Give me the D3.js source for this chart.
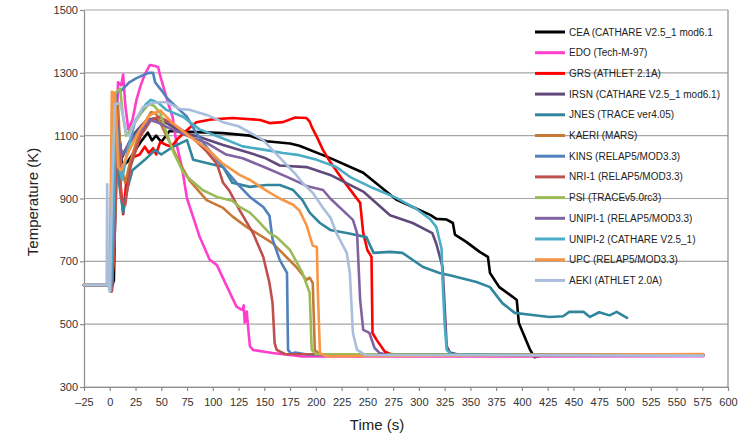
<!DOCTYPE html>
<html>
<head>
<meta charset="utf-8">
<script src="https://cdn.jsdelivr.net/npm/d3@7"></script>
<style>
  html, body { margin: 0; padding: 0; background: #fff; }
  svg { display: block; font-family: "Liberation Sans", Arial, sans-serif; }
</style>
</head>
<body>
<svg id="chart" width="755" height="436"></svg>
<script>
// Cladding temperature histories, [time (s), temperature (K)]
const cea = [[-25,625],[-1,625],[1,605],[4,640],[7,1180],[12,1000],[18,1020],[30,1080],[37,1110],[41,1085],[45,1100],[50,1080],[58,1115],[78,1112],[110,1108],[136,1100],[152,1082],[175,1075],[184,1068],[213,1030],[246,982],[278,897],[311,848],[317,835],[327,833],[333,822],[335,785],[346,762],[359,730],[367,714],[369,663],[378,618],[391,587],[395,577],[397,504],[408,418],[412,395],[420,400],[576,400]];
const edo = [[-25,625],[-1,625],[1,605],[5,900],[8,1270],[11,1260],[13,1295],[15,1200],[18,1120],[22,1150],[26,1215],[30,1260],[34,1295],[39,1325],[44,1322],[47,1318],[49,1290],[53,1245],[57,1200],[61,1160],[65,1070],[70,1000],[75,900],[87,780],[97,705],[104,688],[114,618],[123,556],[127,548],[129,545],[130,560],[131,505],[133,540],[134,500],[136,430],[139,418],[158,408],[187,397],[576,398]];
const grs = [[-25,625],[-1,625],[1,605],[4,700],[6,1150],[9,1000],[13,850],[16,950],[22,1030],[29,1040],[34,1065],[38,1045],[42,1060],[45,1040],[49,1080],[55,1070],[60,1065],[66,1090],[75,1118],[84,1143],[100,1152],[119,1156],[146,1150],[155,1140],[168,1143],[180,1158],[191,1156],[194,1145],[196,1128],[201,1096],[207,1054],[214,1016],[226,960],[243,886],[246,790],[250,736],[254,714],[255,472],[259,450],[267,412],[275,402],[576,402]];
const irsn = [[-25,625],[-1,625],[1,605],[4,800],[6,1180],[9,1100],[12,1030],[16,1060],[22,1100],[30,1130],[36,1150],[42,1155],[55,1140],[71,1110],[87,1096],[110,1070],[136,1045],[150,1030],[165,1005],[191,1000],[214,975],[246,922],[272,847],[294,822],[313,790],[317,755],[323,682],[327,430],[330,410],[340,402],[576,402]];
const jnes = [[-25,625],[-1,625],[1,605],[4,800],[6,1100],[9,950],[13,855],[17,930],[22,990],[34,1023],[44,1054],[50,1040],[61,1064],[75,1086],[81,1023],[94,1013],[110,1000],[119,950],[136,937],[152,943],[165,943],[178,927],[187,895],[194,855],[204,822],[214,800],[230,790],[249,777],[256,727],[272,730],[284,727],[304,682],[320,663],[330,656],[356,634],[369,618],[381,567],[393,536],[408,530],[427,523],[440,525],[446,539],[460,539],[466,523],[475,538],[485,528],[492,539],[502,520]];
const kaeri = [[-25,625],[-1,625],[2,605],[6,900],[8,1200],[11,1000],[15,950],[20,1020],[30,1120],[40,1175],[45,1170],[52,1120],[61,1060],[70,1000],[78,955],[94,895],[110,870],[119,843],[133,809],[158,758],[181,682],[191,641],[194,648],[197,631],[199,418],[205,402],[576,402]];
const kins = [[-25,625],[-1,625],[2,605],[5,1000],[7,1240],[10,1240],[13,1250],[19,1270],[26,1283],[32,1292],[38,1300],[42,1300],[44,1270],[50,1245],[55,1222],[65,1190],[75,1160],[84,1108],[94,1064],[110,1000],[123,950],[136,905],[149,873],[155,845],[158,770],[165,704],[172,663],[173,418],[176,406],[180,410],[190,404],[576,402]];
const nri1 = [[-25,625],[-1,625],[2,605],[5,800],[8,1150],[11,900],[15,880],[20,1000],[30,1100],[40,1150],[48,1160],[60,1140],[78,1100],[94,1050],[104,1010],[110,950],[116,925],[126,863],[139,790],[149,714],[155,631],[158,567],[160,440],[162,418],[170,405],[576,402]];
const psi = [[-25,625],[-1,625],[0,700],[3,1230],[7,1240],[10,1250],[13,1160],[16,1100],[22,1130],[30,1170],[38,1200],[43,1195],[49,1172],[55,1110],[61,1054],[71,985],[75,969],[90,927],[104,905],[119,893],[126,873],[136,855],[143,832],[155,790],[162,777],[175,736],[187,663],[194,600],[196,418],[200,405],[576,402]];
const unipi1 = [[-25,625],[-1,625],[1,605],[4,800],[6,1170],[9,1080],[12,1040],[18,1070],[24,1100],[29,1110],[39,1150],[48,1140],[55,1128],[78,1096],[94,1077],[113,1040],[129,1028],[152,997],[172,969],[191,940],[207,927],[214,900],[226,863],[236,832],[240,790],[243,577],[246,482],[252,472],[257,424],[262,408],[270,402],[576,402]];
const unipi2 = [[-25,625],[-1,625],[1,605],[4,900],[6,1180],[9,1000],[12,960],[17,1050],[25,1150],[35,1200],[40,1214],[47,1205],[55,1182],[71,1160],[87,1120],[107,1095],[129,1066],[152,1054],[168,1045],[184,1038],[201,1023],[220,1000],[233,969],[255,934],[278,902],[298,866],[311,834],[317,809],[320,768],[322,740],[323,640],[325,500],[327,418],[332,403],[576,402]];
const upc = [[-25,625],[-1,625],[0,605],[1,900],[2,1240],[5,1236],[7,1100],[8,1000],[11,990],[19,1054],[29,1118],[39,1166],[49,1180],[61,1140],[78,1096],[94,1060],[110,1010],[126,975],[136,959],[152,925],[165,900],[178,880],[184,862],[191,815],[197,750],[201,746],[202,600],[204,408],[210,398],[576,405]];
const aeki = [[-25,625],[-3,625],[-2.5,945],[-2,625],[-1,625],[0,605],[2,900],[5,1200],[10,1204],[13,1160],[16,1108],[19,1100],[22,1128],[32,1190],[42,1205],[55,1207],[68,1185],[78,1182],[94,1166],[110,1143],[125,1130],[149,1086],[168,1020],[181,975],[187,950],[197,918],[207,870],[214,840],[220,790],[230,727],[233,663],[236,472],[240,418],[248,402],[576,400]];

const seriesNames = ["CEA (CATHARE V2.5_1 mod6.1", "EDO (Tech-M-97)", "GRS (ATHLET 2.1A)", "IRSN (CATHARE V2.5_1 mod6.1)", "JNES (TRACE ver4.05)", "KAERI (MARS)", "KINS (RELAP5/MOD3.3)", "NRI-1 (RELAP5/MOD3.3)", "PSI (TRACEv5.0rc3)", "UNIPI-1 (RELAP5/MOD3.3)", "UNIPI-2 (CATHARE V2.5_1)", "UPC (RELAP5/MOD3.3)", "AEKI (ATHLET 2.0A)"];
const seriesColors = ["#000000", "#ff3fcc", "#ff0000", "#604a7b", "#31859c", "#c77a38", "#4f81bd", "#c0504d", "#9bbb59", "#8064a2", "#4bacc6", "#f79646", "#a9bedc"];
const seriesData = [cea, edo, grs, irsn, jnes, kaeri, kins, nri1, psi, unipi1, unipi2, upc, aeki];

const xTicks = d3.range(-25, 601, 25);
const yTicks = [300, 500, 700, 900, 1100, 1300, 1500];

const svg = d3.select("#chart");
const x = d3.scaleLinear().domain([-25, 600]).range([84, 728]);
const y = d3.scaleLinear().domain([300, 1500]).range([387, 10]);

// horizontal gridlines
svg.append("g").selectAll("line").data(yTicks).join("line")
  .attr("x1", x(-25)).attr("x2", x(600))
  .attr("y1", d => y(d)).attr("y2", d => y(d))
  .attr("stroke", "#a6a6a6").attr("stroke-width", 1.2);

// right frame edge
svg.append("line").attr("x1", x(600)).attr("x2", x(600)).attr("y1", y(1500)).attr("y2", y(300))
  .attr("stroke", "#8c8c8c").attr("stroke-width", 1.2);

const xAxis = svg.append("g").attr("transform", `translate(0,${y(300)})`)
  .call(d3.axisBottom(x).tickValues(xTicks).tickSize(4).tickSizeOuter(0)
    .tickFormat(d => d < 0 ? "\u2013" + Math.abs(d) : String(d)));
const yAxis = svg.append("g").attr("transform", `translate(${x(-25)},0)`)
  .call(d3.axisLeft(y).tickValues(yTicks).tickSize(4).tickSizeOuter(0).tickFormat(d3.format("d")));

[xAxis, yAxis].forEach(g => {
  g.select(".domain").attr("stroke", "#8c8c8c").attr("stroke-width", 1.2);
  g.selectAll(".tick line").attr("stroke", "#8c8c8c").attr("stroke-width", 1.2);
  g.selectAll("text").attr("fill", "#333").style("font-size", "11px")
    .style("font-family", "'Liberation Sans', Arial, sans-serif");
});
xAxis.selectAll("text").attr("dy", "1.1em");
yAxis.selectAll("text").attr("x", -6);

// series lines, later series drawn on top
const line = d3.line().x(d => x(d[0])).y(d => y(d[1]));
svg.append("g").selectAll("path").data(seriesData).join("path")
  .attr("d", line)
  .attr("fill", "none")
  .attr("stroke", (d, i) => seriesColors[i])
  .attr("stroke-width", 2.6)
  .attr("stroke-linejoin", "round")
  .attr("stroke-linecap", "round");

// legend
const legend = svg.append("g");
const legendRows = legend.selectAll("g").data(seriesNames).join("g")
  .attr("transform", (d, i) => `translate(535,${32 + i * 20.7})`);
legendRows.append("line").attr("x1", 0).attr("x2", 30).attr("y1", 0).attr("y2", 0)
  .attr("stroke", (d, i) => seriesColors[i]).attr("stroke-width", 3);
legendRows.append("text").attr("x", 34).attr("y", 0).attr("dy", "0.35em")
  .attr("fill", "#222").style("font-size", "10px").text(d => d);

// axis titles
svg.append("text").attr("x", 377).attr("y", 430).attr("text-anchor", "middle")
  .attr("fill", "#222").style("font-size", "15px").text("Time (s)");
svg.append("text").attr("transform", "translate(38,202) rotate(-90)").attr("text-anchor", "middle")
  .attr("fill", "#222").style("font-size", "15px").text("Temperature (K)");
</script>
</body>
</html>
